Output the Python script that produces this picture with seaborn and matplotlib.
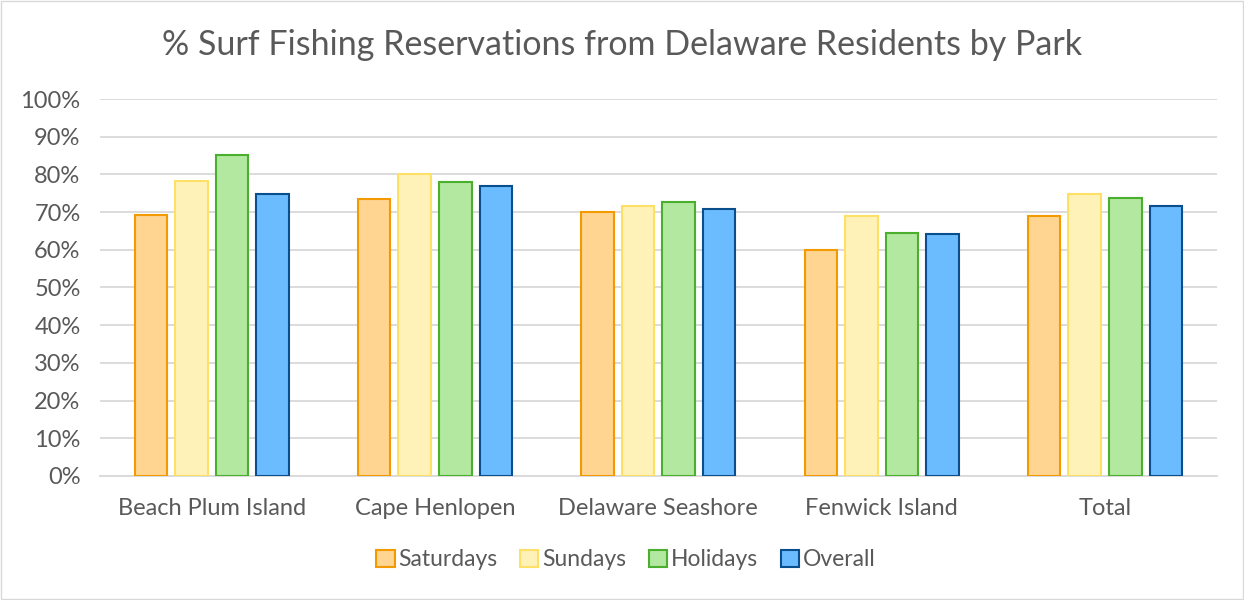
import pandas as pd
import matplotlib.pyplot as plt
import matplotlib.patches as mpatches
import seaborn as sns

# Data
parks = ['Beach Plum Island', 'Cape Henlopen', 'Delaware Seashore', 'Fenwick Island', 'Total']
series = ['Saturdays', 'Sundays', 'Holidays', 'Overall']
saturdays = [0.693, 0.736, 0.699, 0.599, 0.689]
sundays = [0.782, 0.800, 0.716, 0.690, 0.747]
holidays = [0.851, 0.781, 0.726, 0.644, 0.737]
overall = [0.748, 0.768, 0.708, 0.643, 0.717]

fills = ['#FFD591', '#FFF2B8', '#B3E8A0', '#6BBBFF']
edges = ['#F29A00', '#FFE066', '#4BAF2E', '#0B4E8E']

rows = []
for name, vals in zip(series, [saturdays, sundays, holidays, overall]):
    for p, v in zip(parks, vals):
        rows.append({'Park': p, 'Series': name, 'Value': v})
df = pd.DataFrame(rows)

sns.set_style('white')
plt.rcParams['font.family'] = ['Lato', 'DejaVu Sans']
text_col = '#595959'

fig = plt.figure(figsize=(12.44, 6), dpi=100)
ax = fig.add_axes([0.0804, 0.2067, 0.8976, 0.6283])

sns.barplot(data=df, x='Park', y='Value', hue='Series', hue_order=series,
            palette=fills, saturation=1, width=0.727, gap=0.2, ax=ax,
            legend=False, zorder=3)

for cont, ec in zip(ax.containers, edges):
    for bar in cont:
        bar.set_edgecolor(ec)
        bar.set_linewidth(1.5)

ax.set_ylim(0, 1.0)
ax.set_xlim(-0.5, 4.5)
ax.set_yticks([i / 10 for i in range(11)])
ax.set_yticklabels([f'{i * 10}%' for i in range(11)])
ax.yaxis.grid(True, color='#D9D9D9', linewidth=1.3, zorder=0)
ax.set_axisbelow(True)
for s in ['left', 'right', 'top']:
    ax.spines[s].set_visible(False)
ax.spines['bottom'].set_color('#D9D9D9')
ax.spines['bottom'].set_linewidth(1.3)
ax.tick_params(axis='both', length=0, labelsize=17, colors=text_col)
ax.tick_params(axis='x', pad=16)
ax.tick_params(axis='y', pad=14)
ax.set_xlabel('')
ax.set_ylabel('')

fig.text(0.5, 0.925, '% Surf Fishing Reservations from Delaware Residents by Park',
         ha='center', va='center', fontsize=24.5, color=text_col)

handles = [mpatches.Patch(facecolor=f, edgecolor=e, linewidth=1.5, label=s)
           for f, e, s in zip(fills, edges, series)]
fig.legend(handles=handles, loc='center', bbox_to_anchor=(0.503, 0.067), ncol=4,
           frameon=False, fontsize=16.5, handlelength=0.8, handleheight=0.8,
           handletextpad=0.15, columnspacing=1.0, labelcolor=text_col)

fig.patches.append(mpatches.Rectangle((0.001, 0.002), 0.998, 0.996, transform=fig.transFigure,
                                      fill=False, edgecolor='#D9D9D9', linewidth=1))

fig.savefig('out.png', dpi=100)
